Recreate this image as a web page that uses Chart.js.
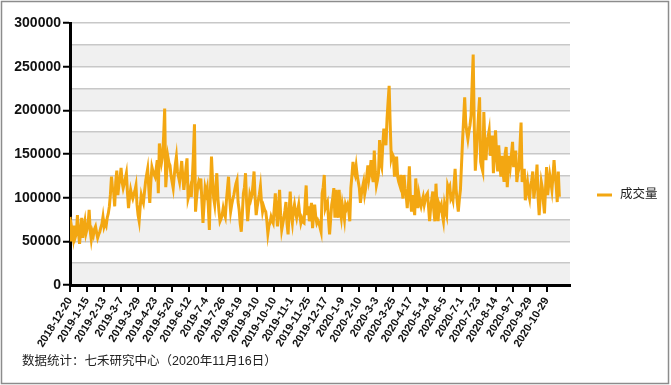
<!DOCTYPE html>
<html>
<head>
<meta charset="utf-8">
<script src="https://cdn.jsdelivr.net/npm/chart.js@4.4.1/dist/chart.umd.min.js"></script>
<style>
html,body{margin:0;padding:0;background:#fff;}
canvas{display:block;}
</style>
</head>
<body>
<canvas id="c" width="671" height="385"></canvas>
<script>
// ---- data ----
const tickLabels = ['2018-12-20','2019-1-15','2019-2-13','2019-3-7','2019-3-29','2019-4-23','2019-5-20','2019-6-12','2019-7-4','2019-7-26','2019-8-19','2019-9-10','2019-10-10','2019-11-1','2019-11-25','2019-12-17','2020-1-9','2020-2-10','2020-3-3','2020-3-25','2020-4-17','2020-5-14','2020-6-5','2020-7-1','2020-7-23','2020-8-14','2020-9-7','2020-9-29','2020-10-29'];
const seriesName = '成交量';
const footerText = '数据统计：七禾研究中心（2020年11月16日）';
const volume = [
78000,50000,62000,54000,68000,55000,59000,80000,60000,47000,62000,77000,54000,66000,73000,59000,
64000,70000,86000,62000,52000,61000,57000,64000,67000,60000,54000,58000,61000,66000,70000,78000,
67000,71000,68000,77000,82000,90000,104000,124000,110000,107000,90000,118000,131000,103000,115000,122000,
134000,118000,111000,116000,122000,128000,106000,88000,100000,109000,103000,99000,104000,108000,114000,92000,
80000,73000,90000,103000,98000,94000,106000,118000,126000,133000,112000,94000,118000,135000,130000,127000,
124000,133000,143000,105000,162000,150000,140000,147000,170000,202000,112000,130000,147000,140000,137000,125000,
118000,111000,125000,138000,147000,130000,124000,118000,130000,142000,125000,109000,120000,134000,145000,99000,
104000,110000,101000,122000,150000,184000,84000,100000,112000,118000,114000,122000,95000,71000,92000,111000,
105000,111000,90000,63000,110000,147000,120000,100000,92000,110000,128000,100000,85000,73000,76000,80000,
88000,82000,78000,96000,110000,124000,100000,84000,92000,98000,103000,110000,116000,120000,95000,86000,
70000,61000,82000,105000,112000,128000,95000,73000,88000,103000,98000,103000,115000,130000,100000,80000,
90000,97000,104000,113000,95000,84000,90000,86000,84000,74000,59000,68000,71000,78000,74000,71000,
88000,105000,85000,67000,90000,109000,80000,63000,70000,77000,85000,95000,70000,58000,85000,107000,
80000,71000,85000,92000,83000,77000,85000,92000,80000,71000,76000,72000,71000,95000,114000,80000,
90000,73000,85000,94000,65000,80000,92000,78000,71000,74000,71000,66000,61000,105000,112000,126000,
88000,92000,95000,75000,58000,75000,92000,100000,111000,77000,109000,90000,77000,109000,85000,77000,
92000,84000,75000,92000,88000,92000,85000,73000,111000,125000,141000,130000,126000,136000,125000,118000,
111000,94000,105000,112000,118000,104000,111000,125000,137000,122000,130000,143000,126000,118000,154000,130000,
114000,120000,128000,166000,140000,135000,160000,179000,170000,160000,190000,210000,228000,183000,145000,150000,
147000,124000,135000,147000,124000,118000,114000,126000,110000,99000,126000,110000,103000,88000,110000,136000,
100000,84000,103000,90000,80000,122000,100000,88000,103000,95000,90000,96000,101000,92000,98000,103000,
105000,90000,73000,88000,98000,107000,85000,73000,116000,90000,73000,92000,88000,92000,80000,73000,
92000,85000,80000,114000,110000,113000,99000,102000,97000,115000,133000,109000,95000,84000,98000,109000,
137000,165000,190000,215000,186000,175000,167000,176000,183000,194000,230000,264000,183000,131000,150000,171000,
195000,215000,141000,135000,130000,198000,160000,143000,164000,170000,177000,148000,160000,171000,128000,150000,
177000,150000,130000,160000,140000,124000,148000,130000,118000,150000,158000,112000,130000,148000,137000,150000,
164000,135000,145000,154000,118000,128000,133000,160000,186000,118000,125000,133000,97000,110000,118000,105000,
99000,114000,120000,130000,99000,110000,118000,138000,100000,80000,100000,118000,111000,95000,82000,110000,
135000,103000,115000,126000,118000,109000,125000,143000,125000,114000,95000,130000,101000
];
const labelEvery = 16;
const yMax = 300000;
const yStep = 25000;
const yLabelStep = 50000;
const xMax = 470;

const lineColor = '#f3a712';
const fontLatin = '"Liberation Sans", Arial, sans-serif';
const fontCJK = '"Liberation Sans", "Noto Sans CJK SC", sans-serif';

const decor = {
  id: 'decor',
  beforeDraw(chart) {
    const {ctx, chartArea: a, scales: {y}} = chart;
    ctx.save();
    ctx.fillStyle = '#ffffff';
    ctx.fillRect(0, 0, chart.width, chart.height);
    ctx.fillStyle = '#f0f0f0';
    for (let v = 0; v < yMax; v += yLabelStep) {
      const y1 = y.getPixelForValue(v);
      const y2 = y.getPixelForValue(v + yStep);
      ctx.fillRect(a.left, y2, a.right - a.left, y1 - y2);
    }
    ctx.restore();
  },
  afterDraw(chart) {
    const {ctx} = chart;
    ctx.save();
    // outer frame
    ctx.strokeStyle = '#8c8c8c';
    ctx.lineWidth = 1.5;
    ctx.strokeRect(1.5, 1.5, chart.width - 4, chart.height - 3);
    // legend
    ctx.strokeStyle = lineColor;
    ctx.lineWidth = 3;
    ctx.beginPath();
    ctx.moveTo(597, 195);
    ctx.lineTo(612, 195);
    ctx.stroke();
    ctx.fillStyle = '#222';
    ctx.textBaseline = 'middle';
    ctx.textAlign = 'left';
    ctx.font = '12.5px ' + fontCJK;
    ctx.fillText(seriesName, 620, 195);
    // footer
    ctx.font = '12.5px ' + fontCJK;
    ctx.fillText(footerText, 22, 362);
    ctx.restore();
  }
};

new Chart(document.getElementById('c'), {
  type: 'line',
  data: {
    datasets: [{
      label: seriesName,
      data: volume.map((v, i) => ({x: i, y: v})),
      borderColor: lineColor,
      backgroundColor: lineColor,
      borderWidth: 3,
      pointRadius: 0,
      tension: 0,
      fill: false
    }]
  },
  options: {
    responsive: false,
    animation: false,
    events: [],
    layout: {padding: {left: 0, right: 101, top: 23, bottom: 0}},
    plugins: {legend: {display: false}, tooltip: {enabled: false}},
    scales: {
      x: {
        type: 'linear',
        min: 0,
        max: xMax,
        afterBuildTicks(s) {
          s.ticks = s.ticks.filter(t => t.value % labelEvery === 0 && t.value <= labelEvery * tickLabels.length);
        },
        afterFit(s) { s.height = 100; },
        ticks: {
          stepSize: labelEvery,
          autoSkip: false,
          minRotation: 58,
          maxRotation: 58,
          padding: 3,
          color: '#111',
          font: {family: fontLatin, size: 11, weight: 'bold'},
          callback(v) { const k = Math.round(v / labelEvery); return tickLabels[k] !== undefined ? tickLabels[k] : ''; }
        },
        grid: {drawOnChartArea: false, drawTicks: true, tickLength: 7, tickColor: '#000', tickWidth: 2, lineWidth: 2},
        border: {display: true, color: '#000', width: 3}
      },
      y: {
        min: 0,
        max: yMax,
        afterFit(s) { s.width = 70; },
        ticks: {
          stepSize: yStep,
          autoSkip: false,
          padding: 2,
          color: '#111',
          font: {family: fontLatin, size: 14, weight: 'bold'},
          callback(v) { return v % yLabelStep === 0 ? String(v) : ''; }
        },
        grid: {
          color: '#c8c8c8',
          lineWidth: 1.5,
          tickLength: 7,
          tickWidth: 2,
          tickColor: (c) => (c.tick && c.tick.value % yLabelStep === 0) ? '#000' : 'rgba(0,0,0,0)'
        },
        border: {display: true, color: '#000', width: 3}
      }
    }
  },
  plugins: [decor]
});
</script>
</body>
</html>
